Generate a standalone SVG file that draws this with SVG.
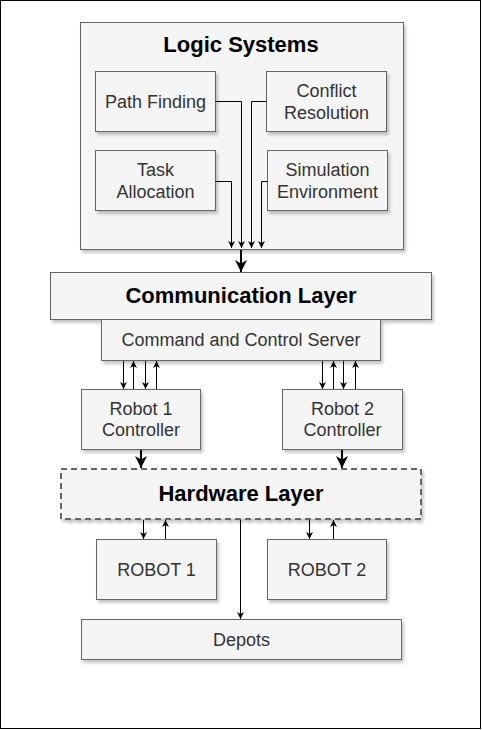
<svg xmlns="http://www.w3.org/2000/svg" width="482" height="730" viewBox="0 0 482 730">
<defs>
<filter id="sh" x="-10%" y="-10%" width="130%" height="140%">
<feDropShadow dx="2" dy="3" stdDeviation="1.5" flood-color="#000" flood-opacity="0.22"/>
</filter>
<marker id="a" viewBox="0 0 10 10" refX="10" refY="5" markerWidth="7" markerHeight="7" markerUnits="userSpaceOnUse" orient="auto">
<path d="M0,0 L10,5 L0,10 L3,5 Z" fill="#000"/>
</marker>
<marker id="b" viewBox="0 0 10 10" refX="10" refY="5" markerWidth="12" markerHeight="12" markerUnits="userSpaceOnUse" orient="auto">
<path d="M0,0 L10,5 L0,10 L3,5 Z" fill="#000"/>
</marker>
</defs>
<style>
.box{fill:#f5f5f5;stroke:#666666;stroke-width:1;filter:url(#sh)}
.dash{fill:#f5f5f5;stroke:#666666;stroke-width:2;stroke-dasharray:6 4;filter:url(#sh)}
.t{font-family:"Liberation Sans",Arial,sans-serif;font-size:18px;fill:#333333;text-anchor:middle}
.h{font-family:"Liberation Sans",Arial,sans-serif;font-size:22px;font-weight:bold;fill:#000;text-anchor:middle}
.c{fill:none;stroke:#000;stroke-width:1;marker-end:url(#a)}
.ck{fill:none;stroke:#000;stroke-width:2;marker-end:url(#b)}
</style>
<rect x="0.5" y="0.5" width="480" height="728" fill="#fff" stroke="#000"/>
<g id="logic-systems">
<rect class="box" x="80.5" y="22.5" width="323" height="227"/>
<text class="h" x="241" y="52">Logic Systems</text>
</g>
<g id="path-finding">
<rect class="box" x="95.5" y="71.5" width="120" height="60"/>
<text class="t" x="155.5" y="108">Path Finding</text>
</g>
<g id="conflict-resolution">
<rect class="box" x="266.5" y="71.5" width="120" height="60"/>
<text class="t" x="326.5" y="97">Conflict</text>
<text class="t" x="326.5" y="118.6">Resolution</text>
</g>
<g id="task-allocation">
<rect class="box" x="95.5" y="150.5" width="120" height="60"/>
<text class="t" x="155.5" y="176">Task</text>
<text class="t" x="155.5" y="197.6">Allocation</text>
</g>
<g id="simulation-environment">
<rect class="box" x="267.5" y="150.5" width="120" height="60"/>
<text class="t" x="327.5" y="176">Simulation</text>
<text class="t" x="327.5" y="197.6">Environment</text>
</g>
<g id="communication-layer">
<rect class="box" x="50.5" y="272.5" width="381" height="47"/>
<text class="h" x="241" y="303">Communication Layer</text>
</g>
<g id="command-server">
<rect class="box" x="101.5" y="319.5" width="279" height="41"/>
<text class="t" x="241" y="346">Command and Control Server</text>
</g>
<g id="robot1-controller">
<rect class="box" x="81.5" y="389.5" width="119" height="60"/>
<text class="t" x="141" y="414.6">Robot 1</text>
<text class="t" x="141" y="436.2">Controller</text>
</g>
<g id="robot2-controller">
<rect class="box" x="282.5" y="389.5" width="120" height="60"/>
<text class="t" x="342.5" y="414.6">Robot 2</text>
<text class="t" x="342.5" y="436.2">Controller</text>
</g>
<g id="hardware-layer">
<rect class="dash" x="61" y="469" width="360" height="50"/>
<text class="h" x="241" y="501">Hardware Layer</text>
</g>
<g id="robot1">
<rect class="box" x="96.5" y="539.5" width="120" height="60"/>
<text class="t" x="156.5" y="575.5">ROBOT 1</text>
</g>
<g id="robot2">
<rect class="box" x="267.5" y="539.5" width="119" height="60"/>
<text class="t" x="327" y="575.5">ROBOT 2</text>
</g>
<g id="depots">
<rect class="box" x="81.5" y="619.5" width="320" height="40"/>
<text class="t" x="241.5" y="645.5">Depots</text>
</g>
<g id="connectors">
<path class="c" d="M215.5,101.5 H241.5 V248"/>
<path class="c" d="M266.5,101.5 H251.5 V248"/>
<path class="c" d="M215.5,181.5 H231.5 V248"/>
<path class="c" d="M267.5,181.5 H261.5 V248"/>
<path class="ck" d="M241,250 V272"/>
<path class="c" d="M123.5,361 V389"/>
<path class="c" d="M133.5,389 V361"/>
<path class="c" d="M145.5,361 V389"/>
<path class="c" d="M156.5,389 V361"/>
<path class="c" d="M322.5,361 V389"/>
<path class="c" d="M333.5,389 V361"/>
<path class="c" d="M343.5,361 V389"/>
<path class="c" d="M355.5,389 V361"/>
<path class="ck" d="M141,450 V468"/>
<path class="ck" d="M342,450 V468"/>
<path class="c" d="M143.5,520 V539"/>
<path class="c" d="M165.5,539 V520"/>
<path class="c" d="M309.5,520 V539"/>
<path class="c" d="M333.5,539 V520"/>
<path class="c" d="M240.5,520 V619"/>
</g>
</svg>
